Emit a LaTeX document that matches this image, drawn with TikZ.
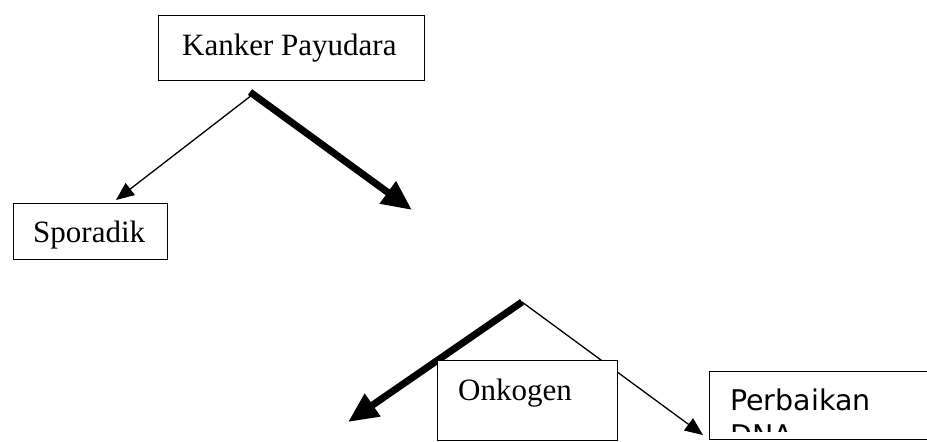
\documentclass[tikz,border=0pt]{standalone}
\usepackage{fontspec}
\setmainfont{Liberation Serif}
\newfontfamily\dejavu{DejaVu Sans}
\usetikzlibrary{arrows.meta}
\begin{document}
\begin{tikzpicture}[x=1pt,y=-1pt,
  box/.style={draw, line width=1.3pt, fill=white, inner sep=0pt, anchor=north west},
  lbl/.style={inner sep=0pt, anchor=base west, font=\fontsize{31}{37}\selectfont},
  sanslbl/.style={inner sep=0pt, anchor=base west, font=\dejavu\fontsize{28.5}{35}\selectfont},
  thinarrow/.style={line width=1.3pt, -{Triangle[length=18pt,width=15pt]}},
  thickarrow/.style={line width=7pt, line cap=butt, -{Triangle[length=30pt,width=26pt]}}]
\clip (0,0) rectangle (927,442);

% branching points and arrow ends
\coordinate (top) at (250,92);
\coordinate (topthin) at (252,95);
\coordinate (tipmid) at (412,210);
\coordinate (tipspor) at (116,200);
\coordinate (mid) at (522,302);
\coordinate (tipleft) at (348,422);
\coordinate (tipdna) at (703,435);

% connectors
\draw[thinarrow] (topthin) -- (tipspor);
\draw[thickarrow] (top) -- (tipmid);
\draw[thinarrow] (mid) -- (tipdna);
\draw[thickarrow] (mid) -- (tipleft);

% boxes
\node[box, minimum width=266pt, minimum height=65pt] (kp) at (158,15) {};
\node[box, minimum width=154pt, minimum height=56pt] (spor) at (13,203) {};
\node[box, minimum width=180pt, minimum height=80pt] (onko) at (437,360) {};
\node[box, minimum width=260pt, minimum height=68pt] (dna) at (709,371) {};

% labels
\node[lbl] (kpt) at (182,55) {Kanker Payudara};
\node[lbl] (sport) at (33,242) {Sporadik};
\node[lbl] (onkot) at (458,400) {Onkogen};
\begin{scope}
  \clip (709,371) rectangle (927,431);
  \node[sanslbl] (dnat1) at (730,410) {Perbaikan};
  \node[sanslbl] (dnat2) at (730,445) {DNA};
\end{scope}
\end{tikzpicture}
\end{document}
